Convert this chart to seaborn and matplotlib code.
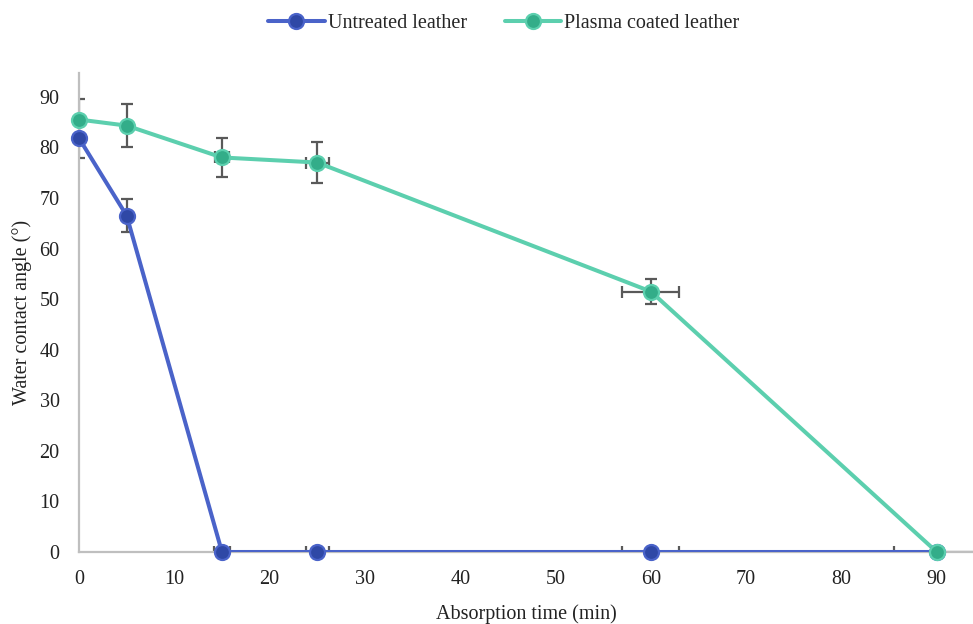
import numpy as np
import pandas as pd
import matplotlib
matplotlib.use('Agg')
import matplotlib.pyplot as plt
import seaborn as sns

# data
time_min = [0, 5, 15, 25, 60, 90]
untreated = [81.8, 66.5, 0, 0, 0, 0]
untreated_yerr = [4.0, 3.3, 0, 0, 0, 0]
untreated_xerr = [0, 0, 0.8, 1.2, 3.0, 4.5]
plasma = [85.5, 84.3, 78.0, 77.0, 51.5, 0]
plasma_yerr = [4.0, 4.2, 3.9, 4.0, 2.5, 0]
plasma_xerr = [0, 0, 0.7, 1.2, 3.0, 0]

series_names = ['Untreated leather', 'Plasma coated leather']

sns.set_style('white')
plt.rcParams['font.family'] = ['Liberation Serif', 'DejaVu Serif']

df = pd.DataFrame({
    'time': time_min * 2,
    'angle': untreated + plasma,
    'series': [series_names[0]] * len(time_min) + [series_names[1]] * len(time_min),
})

line_cols = {series_names[0]: '#4a63c9', series_names[1]: '#5ccfae'}
face_cols = {series_names[0]: '#2f48a6', series_names[1]: '#33ad89'}

fig = plt.figure(figsize=(9.73, 6.24), dpi=100)
ax = fig.add_axes([0.0812, 0.1154, 0.9188, 0.7676])

# error bars first (underneath the lines and markers)
for y, xe, ye in [(untreated, untreated_xerr, untreated_yerr),
                  (plasma, plasma_xerr, plasma_yerr)]:
    ax.errorbar(time_min, y, xerr=xe, yerr=ye, fmt='none', ecolor='#595959',
                elinewidth=1.6, capsize=4.5, capthick=1.6, zorder=2)

sns.lineplot(data=df, x='time', y='angle', hue='series', palette=line_cols,
             linewidth=2.9, ax=ax, legend=False, zorder=3, sort=False)

for name in series_names:
    sub = df[df['series'] == name]
    ax.plot(sub['time'], sub['angle'], linestyle='none', marker='o', markersize=10.8,
            markerfacecolor=face_cols[name], markeredgecolor=line_cols[name],
            markeredgewidth=1.6, zorder=4, clip_on=False)

ax.set_xlim(0, 93.8)
ax.set_ylim(0, 94.7)
ax.set_xticks(np.arange(0, 100, 10))
ax.set_yticks(np.arange(0, 100, 10))
ax.tick_params(axis='x', length=0, labelsize=14.5, colors='#222222', pad=13)
ax.tick_params(axis='y', length=0, labelsize=14.5, colors='#222222', pad=14)
ax.set_xlabel('Absorption time (min)', fontsize=14.5, color='#222222', labelpad=11)
ax.set_ylabel('Water contact angle (°)', fontsize=14.5, color='#222222', labelpad=5)

for side in ['top', 'right']:
    ax.spines[side].set_visible(False)
for side in ['left', 'bottom']:
    ax.spines[side].set_color('#bfbfbf')
    ax.spines[side].set_linewidth(1.6)

handles = [plt.Line2D([], [], color=line_cols[n], linewidth=2.9, marker='o', markersize=10.8,
                      markerfacecolor=face_cols[n], markeredgecolor=line_cols[n],
                      markeredgewidth=1.6) for n in series_names]
fig.legend(handles, series_names, loc='center', bbox_to_anchor=(0.518, 0.963), ncol=2,
           frameon=False, fontsize=14.5, handlelength=2.8, handletextpad=0.15,
           columnspacing=1.9)

fig.savefig('out.png', dpi=100)
